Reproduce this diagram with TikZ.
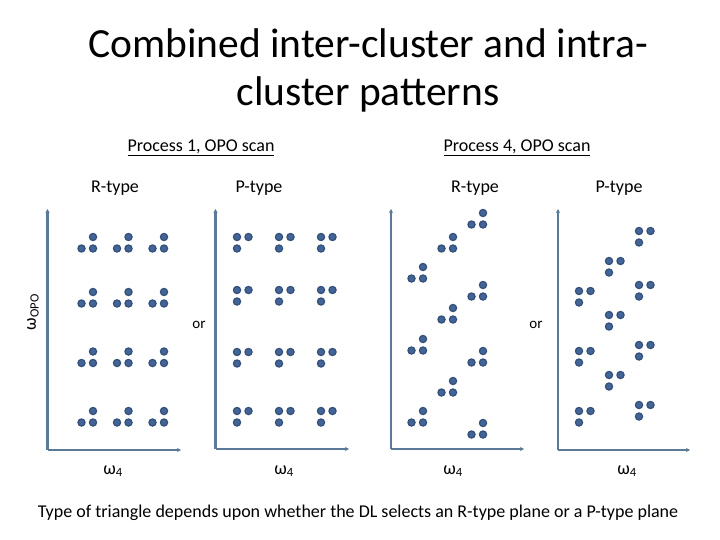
\documentclass[tikz,border=0pt]{standalone}
\usepackage{fontspec}
\setmainfont{Carlito}
\usetikzlibrary{arrows.meta}
\definecolor{dotfill}{RGB}{66,100,150}
\definecolor{dotdraw}{RGB}{52,80,122}
\definecolor{axiscol}{RGB}{92,122,152}
\newcommand\rcl[2]{%
  \fill[dot] (#1,#2) circle (3.6);
  \fill[dot] (#1-11.5,#2+11.5) circle (3.6);
  \fill[dot] (#1,#2+11.5) circle (3.6);}
\newcommand\pcl[2]{%
  \fill[dot] (#1,#2) circle (3.6);
  \fill[dot] (#1+11.5,#2) circle (3.6);
  \fill[dot] (#1,#2+11.5) circle (3.6);}
\begin{document}
\begin{tikzpicture}[x=1pt,y=-1pt,
  dot/.style={fill=dotfill,draw=dotdraw,line width=1.2pt},
  axis/.style={draw=axiscol,line width=2.6pt,-{Stealth[length=4pt,width=4pt]}},
  lab/.style={font=\fontsize{18}{20}\selectfont,inner sep=0pt},
  small/.style={font=\fontsize{15}{17}\selectfont,inner sep=0pt}]
\useasboundingbox (0,0) rectangle (720,540);
% title
\node[align=center,font=\fontsize{41.5}{48}\selectfont,inner sep=0pt] (title) at (368,70) {Combined inter-cluster and intra-\\cluster patterns};
% headings
\node[lab] (p1) at (201,148) {\underline{Process 1, OPO scan}};
\node[lab] (p4) at (517,148) {\underline{Process 4, OPO scan}};
\node[lab] (r1) at (115,188) {R-type};
\node[lab] (q1) at (259,188) {P-type};
\node[lab] (r2) at (475,188) {R-type};
\node[lab] (q2) at (619,188) {P-type};
\node[small] (or1) at (199,325) {or};
\node[small] (or2) at (536,325) {or};
% axis labels
\node[lab,rotate=90] (wopo) at (33,312) {ω\textsubscript{OPO}};
\node[lab] (w1) at (113,471) {ω\textsubscript{4}};
\node[lab] (w2) at (284,471) {ω\textsubscript{4}};
\node[lab] (w3) at (453,471) {ω\textsubscript{4}};
\node[lab] (w4) at (627,471) {ω\textsubscript{4}};
% caption
\node[font=\fontsize{18}{20}\selectfont,inner sep=0pt] (cap) at (358,513) {Type of triangle depends upon whether the DL selects an R-type plane or a P-type plane};
% axes
\coordinate (o1) at (47.5,450); \coordinate (t1) at (47.5,209); \coordinate (e1) at (181,450);
\coordinate (o2) at (215.5,449); \coordinate (t2) at (215.5,209); \coordinate (e2) at (349,449);
\coordinate (o3) at (391,449); \coordinate (t3) at (391,209); \coordinate (e3) at (524,449);
\coordinate (o4) at (558,450); \coordinate (t4) at (558,209); \coordinate (e4) at (690,450);
\foreach \i in {1,2,3,4}{
  \draw[axis] (o\i) -- (t\i);
  \draw[axis] (o\i) -- (e\i);
}
% panel 1 R-type
\foreach \y in {237,292,351.5,411}{
  \foreach \x in {93,128.5,164}{\rcl{\x}{\y}}}
% panel 2 P-type
\foreach \y in {237,290,352,411}{
  \foreach \x in {237,279,321}{\pcl{\x}{\y}}}
% panel 3 R-type shifted
\foreach \y in {267,339,411}{\rcl{423}{\y}}
\foreach \y in {237,308,381}{\rcl{453}{\y}}
\foreach \y in {213,285,351,423}{\rcl{483}{\y}}
% panel 4 P-type shifted
\foreach \y in {291,351,411}{\pcl{579}{\y}}
\foreach \y in {261,315,375}{\pcl{609}{\y}}
\foreach \y in {231,285,345,405}{\pcl{639}{\y}}
\end{tikzpicture}
\end{document}
